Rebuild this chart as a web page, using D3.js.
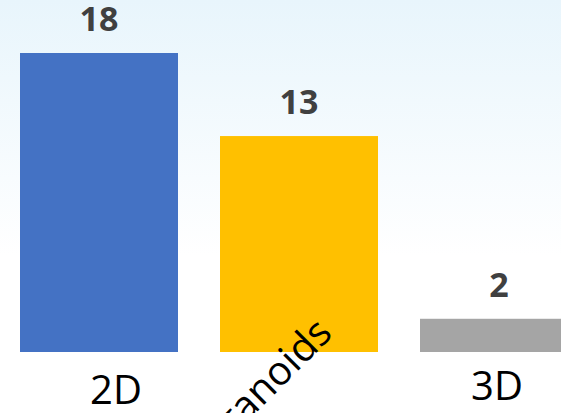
<!DOCTYPE html>
<html>
<head>
<meta charset="utf-8">
<script src="https://cdn.jsdelivr.net/npm/d3@7/dist/d3.min.js"></script>
<style>
  html, body { margin: 0; padding: 0; background: #fff; }
  svg { display: block; }
</style>
</head>
<body>
<div id="chart"></div>
<script>
// Chart data
const categories = ["2D", "Organoids", "3D"];
const counts = [18, 13, 2];
const barColors = ["#4472C4", "#FFC000", "#A5A5A5"];

const W = 561, H = 413;
const baseY = 352;

const svg = d3.select("#chart").append("svg")
  .attr("width", W).attr("height", H);

// soft blue wash fading to white toward the bottom
const defs = svg.append("defs");
const grad = defs.append("linearGradient")
  .attr("id", "bg").attr("x1", 0).attr("y1", 0).attr("x2", 0).attr("y2", 1);
grad.append("stop").attr("offset", "0%").attr("stop-color", "#E8F5FC");
grad.append("stop").attr("offset", "62%").attr("stop-color", "#FFFFFF");
grad.append("stop").attr("offset", "100%").attr("stop-color", "#FFFFFF");
svg.append("rect").attr("width", W).attr("height", H).attr("fill", "url(#bg)");

// band scale: each category occupies a 200px slot, bar is 158px wide
const x = d3.scaleBand()
  .domain(categories)
  .range([-1, 599])
  .paddingInner(0.21)
  .paddingOuter(0.105);

const y = d3.scaleLinear()
  .domain([0, 18])
  .range([baseY, 53]);

const data = categories.map((c, i) => ({ cat: c, value: counts[i], color: barColors[i] }));

svg.append("g").selectAll("rect")
  .data(data)
  .join("rect")
  .attr("x", d => x(d.cat))
  .attr("y", d => y(d.value))
  .attr("width", x.bandwidth())
  .attr("height", d => y(0) - y(d.value))
  .attr("fill", d => d.color);

// value labels above bars
svg.append("g").selectAll("text")
  .data(data)
  .join("text")
  .attr("x", d => x(d.cat) + x.bandwidth() / 2)
  .attr("y", d => y(d.value) - 22)
  .attr("text-anchor", "middle")
  .attr("font-family", "'Open Sans', sans-serif")
  .attr("font-weight", 700)
  .attr("font-size", 34)
  .attr("fill", "#404040")
  .text(d => d.value);

// category labels
const labelPlace = {
  "2D": { dx: 17, y: 404, rotate: 0 },
  "Organoids": { dx: 35, y: 335, rotate: -45 },
  "3D": { dx: -2, y: 400, rotate: 0 }
};
svg.append("g").selectAll("text")
  .data(data)
  .join("text")
  .attr("font-family", "'Open Sans', sans-serif")
  .attr("font-size", 40)
  .attr("fill", "#000")
  .attr("text-anchor", d => labelPlace[d.cat].rotate ? "end" : "middle")
  .attr("transform", d => {
    const p = labelPlace[d.cat];
    const cx = x(d.cat) + x.bandwidth() / 2 + p.dx;
    return `translate(${cx},${p.y}) rotate(${p.rotate})`;
  })
  .text(d => d.cat);
</script>
</body>
</html>
